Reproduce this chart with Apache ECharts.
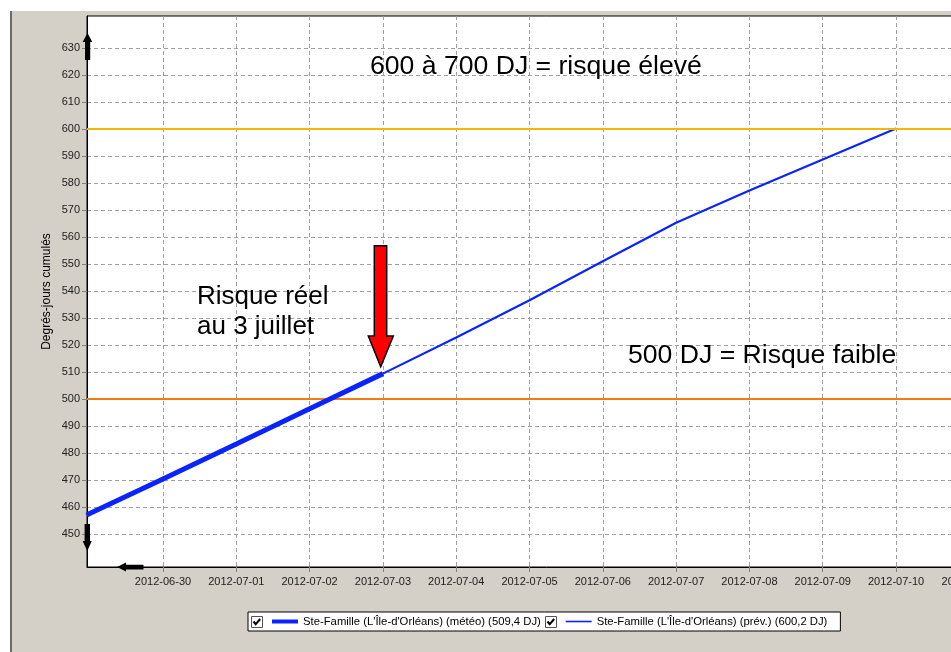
<!DOCTYPE html>
<html>
<head>
<meta charset="utf-8">
<script src="https://cdn.jsdelivr.net/npm/echarts@6/dist/echarts.min.js"></script>
<style>
html,body{margin:0;padding:0;overflow:hidden;background:#fff;width:951px;height:652px;}
#chart{position:absolute;left:0;top:0;width:1040px;height:652px;}
</style>
</head>
<body>
<div id="chart"></div>
<script>
// ---- data ----
const meteoDates = ['2012-06-28 23:00', '2012-06-29 00:00', '2012-06-30 00:00', '2012-07-01 00:00', '2012-07-02 00:00', '2012-07-03 00:00'];
const meteoValues = [457.0, 457.6, 470.4, 483.3, 496.4, 509.4];
const prevDates = ['2012-07-03 00:00', '2012-07-04 00:00', '2012-07-05 00:00', '2012-07-06 00:00', '2012-07-07 00:00', '2012-07-08 00:00', '2012-07-09 00:00', '2012-07-10 00:00'];
const prevValues = [509.4, 522.8, 536.6, 551.0, 565.3, 577.2, 588.7, 600.2];
const thresholds = [600, 500];
const seriesNames = ["Ste-Famille (L'Île-d'Orléans) (météo) (509,4 DJ)", "Ste-Famille (L'Île-d'Orléans) (prév.) (600,2 DJ)"];
const yAxisName = 'Degrés-jours cumulés';
// full plot extent
const xMin = '2012-06-28 23:07';
const xMax = '2012-07-11 12:00';
const yMin = 437.78;
const yMax = 641.85;
// tick label range
const xTickStart = '2012-06-30 00:00';
const yTickMin = 450;
const yTickMax = 630;
const yTickStep = 10;
const annotations = ['600 à 700 DJ = risque élevé', '500 DJ = Risque faible', 'Risque réel', 'au 3 juillet'];

const FONT = 'Arial, "Liberation Sans", sans-serif';
const chart = echarts.init(document.getElementById('chart'), null, {renderer: 'canvas'});

function checkbox(x, y) {
  return {
    type: 'group', x: x, y: y,
    children: [
      {type: 'rect', z: 200, shape: {x: 0.5, y: 0.5, width: 11, height: 11}, style: {fill: '#fff', stroke: '#555', lineWidth: 1}},
      {type: 'polyline', z: 201, shape: {points: [[2.5, 5.5], [4.7, 8.2], [9.2, 3]]}, style: {fill: null, stroke: '#000', lineWidth: 2}}
    ]
  };
}

const dashed = {color: '#a0a0a0', type: [4, 3], width: 1};

const option = {
  backgroundColor: '#d4d0c8',
  animation: false,
  grid: [
    {left: 87, top: 16, right: 34, bottom: 85, show: true, backgroundColor: '#ffffff', borderColor: '#000', borderWidth: 1},
    {left: 87, top: 48, right: 34, bottom: 118, show: false},
    {left: 163, top: 16, right: 34, bottom: 85, show: false}
  ],
  legend: {
    left: 248, top: 612,
    padding: [4, 13, 4, 22],
    itemGap: 24,
    itemWidth: 26, itemHeight: 12,
    backgroundColor: '#fff', borderColor: '#000', borderWidth: 1,
    textStyle: {fontFamily: FONT, fontSize: 11.3, color: '#000'},
    itemStyle: {opacity: 0, color: 'rgba(0,0,0,0)', borderWidth: 0},
    data: [
      {name: seriesNames[0], lineStyle: {width: 4, color: '#0a24ff', opacity: 1}, itemStyle: {opacity: 0, color: 'rgba(0,0,0,0)', borderWidth: 0}},
      {name: seriesNames[1], lineStyle: {width: 1.6, color: '#0a24ff', opacity: 1}, itemStyle: {opacity: 0, color: 'rgba(0,0,0,0)', borderWidth: 0}}
    ],
    selectedMode: false
  },
  xAxis: [
    {
      gridIndex: 0, type: 'time', min: xMin, max: xMax,
      axisLine: {show: true, lineStyle: {color: '#000', width: 1}},
      axisTick: {show: false}, axisLabel: {show: false}, splitLine: {show: false}
    },
    {gridIndex: 1, type: 'value', show: false, min: 0, max: 1},
    {
      gridIndex: 2, type: 'time', min: xTickStart, max: xMax,
      minInterval: 86400000, maxInterval: 86400000,
      axisLine: {show: false},
      axisTick: {show: true, length: 5, lineStyle: {color: '#808080'}},
      axisLabel: {formatter: '{yyyy}-{MM}-{dd}', fontFamily: FONT, fontSize: 11, color: '#222', margin: 9, hideOverlap: false},
      splitLine: {show: true, lineStyle: dashed}
    }
  ],
  yAxis: [
    {
      gridIndex: 0, type: 'value', min: yMin, max: yMax,
      name: yAxisName, nameLocation: 'middle', nameRotate: 90, nameGap: 34,
      nameTextStyle: {fontFamily: FONT, fontSize: 12, color: '#000'},
      axisLine: {show: true, lineStyle: {color: '#000', width: 1}},
      axisTick: {show: false}, axisLabel: {show: false}, splitLine: {show: false}
    },
    {
      gridIndex: 1, type: 'value', min: yTickMin, max: yTickMax, interval: yTickStep,
      axisLine: {show: false},
      axisTick: {show: true, length: 5, lineStyle: {color: '#808080'}},
      axisLabel: {fontFamily: FONT, fontSize: 11, color: '#222', margin: 7},
      splitLine: {show: true, lineStyle: dashed}
    },
    {gridIndex: 2, type: 'value', show: false, min: 0, max: 1}
  ],
  series: [
    {
      name: seriesNames[0], type: 'line', xAxisIndex: 0, yAxisIndex: 0, showSymbol: false, symbol: 'none',
      data: meteoDates.map((d, i) => [d, meteoValues[i]]),
      lineStyle: {color: '#0a24ff', width: 5}, itemStyle: {color: '#0a24ff'},
      z: 5,
      markLine: {
        silent: true, symbol: 'none', label: {show: false},
        data: [
          {yAxis: thresholds[0], lineStyle: {color: '#f2b705', width: 2, type: 'solid'}},
          {yAxis: thresholds[1], lineStyle: {color: '#f07c12', width: 2, type: 'solid'}}
        ]
      }
    },
    {
      name: seriesNames[1], type: 'line', xAxisIndex: 0, yAxisIndex: 0, showSymbol: false, symbol: 'none',
      data: prevDates.map((d, i) => [d, prevValues[i]]),
      lineStyle: {color: '#0a24ff', width: 2.2}, itemStyle: {color: '#0a24ff'},
      z: 4
    }
  ],
  graphic: [
    {type: 'rect', shape: {x: 0, y: 0, width: 1040, height: 11}, style: {fill: '#fff'}, z: 100},
    {type: 'rect', shape: {x: 0, y: 0, width: 10, height: 652}, style: {fill: '#fff'}, z: 100},
    {type: 'rect', shape: {x: 10, y: 11, width: 2, height: 641}, style: {fill: '#6a6a6a'}, z: 100},
    // axis arrows
    {type: 'polygon', shape: {points: [[87.5, 33], [92.3, 42], [90.2, 42], [90.2, 60], [85, 60], [85, 42], [82.7, 42]]}, style: {fill: '#000'}, z: 100},
    {type: 'polygon', shape: {points: [[84.6, 524], [90, 524], [90, 541], [91.8, 541], [87.3, 551], [82.6, 541], [84.6, 541]]}, style: {fill: '#000'}, z: 100},
    {type: 'polygon', shape: {points: [[117, 567], [126, 562.5], [126, 564.8], [143.5, 564.8], [143.5, 569.4], [126, 569.4], [126, 571.5]]}, style: {fill: '#000'}, z: 100},
    // red arrow
    {type: 'polygon', shape: {points: [[374.3, 245.7], [386.7, 245.7], [386.7, 336], [393.3, 336], [380.7, 366.7], [368.3, 336], [374.3, 336]]}, style: {fill: '#ff0000', stroke: '#000', lineWidth: 1.5}, z: 100},
    // annotation texts
    {type: 'text', x: 370, y: 67, style: {text: annotations[0], font: '26.6px ' + FONT, fill: '#000', textVerticalAlign: 'middle'}, z: 100},
    {type: 'text', x: 628, y: 356, style: {text: annotations[1], font: '26.6px ' + FONT, fill: '#000', textVerticalAlign: 'middle'}, z: 100},
    {type: 'text', x: 197, y: 297, style: {text: annotations[2], font: '26px ' + FONT, fill: '#000', textVerticalAlign: 'middle'}, z: 100},
    {type: 'text', x: 197, y: 327, style: {text: annotations[3], font: '26px ' + FONT, fill: '#000', textVerticalAlign: 'middle'}, z: 100},
    checkbox(251, 616),
    checkbox(545, 616)
  ]
};
chart.setOption(option);
</script>
</body>
</html>
